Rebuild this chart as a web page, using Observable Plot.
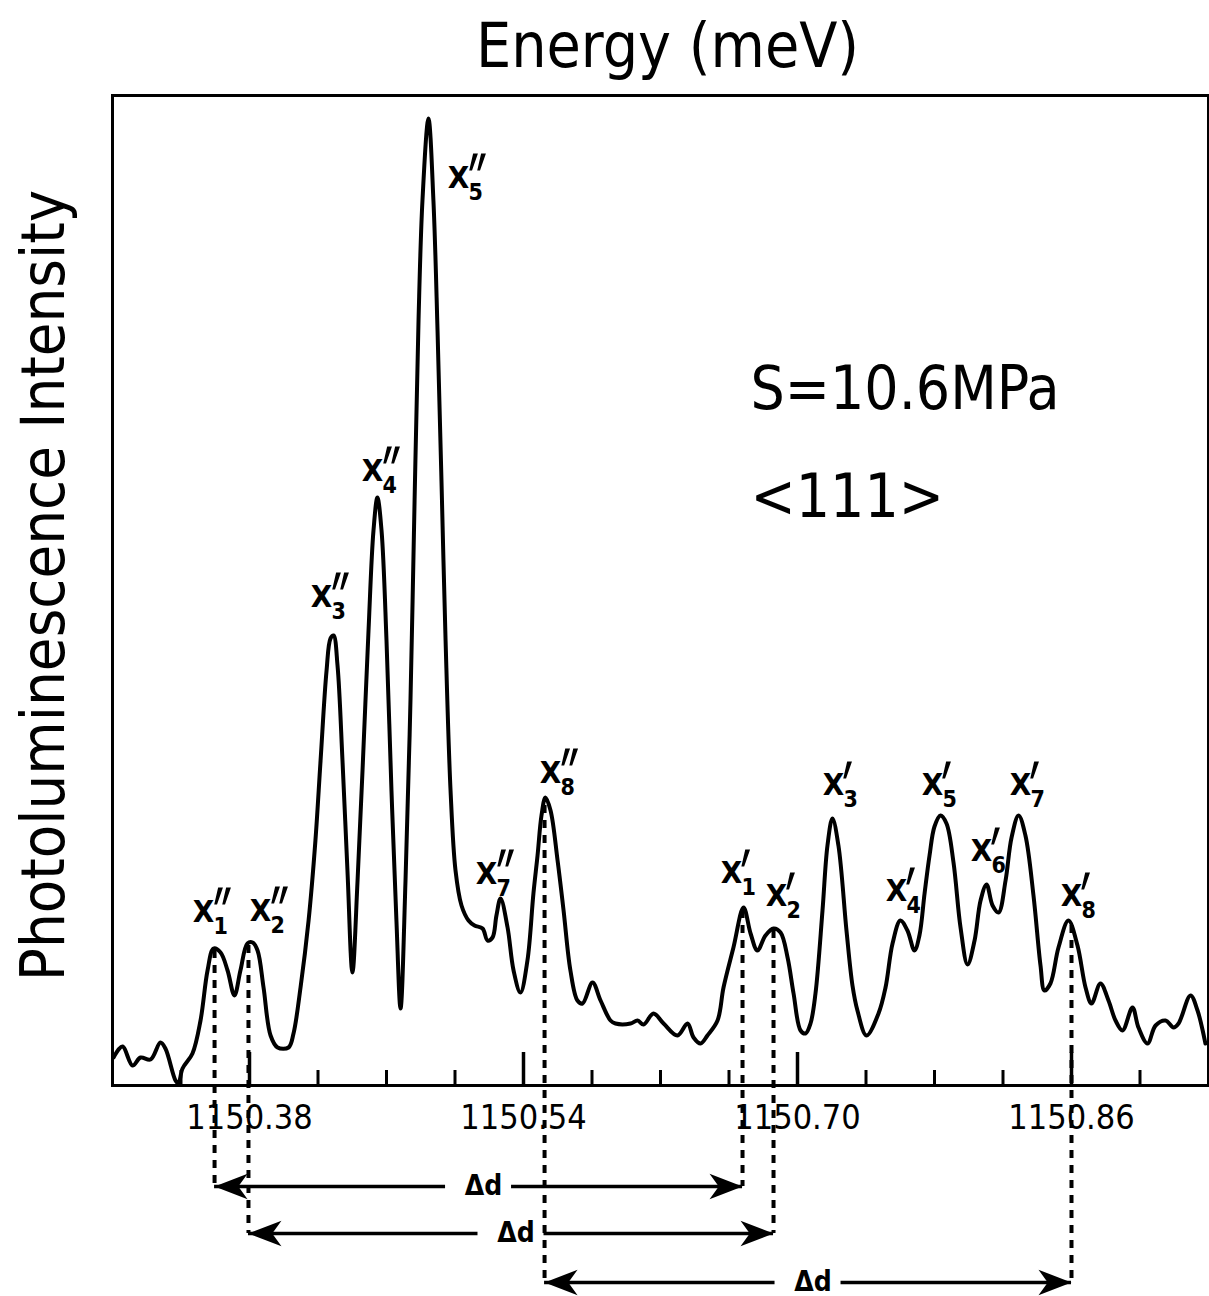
<!DOCTYPE html>
<html><head><meta charset="utf-8">
<script src="https://cdn.jsdelivr.net/npm/d3@7"></script>
<script src="https://cdn.jsdelivr.net/npm/@observablehq/plot@0.6"></script>
<style>
html,body{margin:0;padding:0;background:#fff;}
</style>
</head><body><div id="chart"></div>
<script>
// ---- spectrum (energy in meV, intensity in arbitrary units) ----
const energy = [
1150.3006, 1150.3058, 1150.3117, 1150.3164, 1150.3222, 1150.3280, 1150.3309, 1150.3368, 1150.3385, 1150.3409,
1150.3467, 1150.3514, 1150.3555, 1150.3590, 1150.3631, 1150.3672, 1150.3712, 1150.3747, 1150.3788, 1150.3818,
1150.3847, 1150.3882, 1150.3923, 1150.3964, 1150.4028, 1150.4057, 1150.4098, 1150.4145, 1150.4185, 1150.4215,
1150.4250, 1150.4273, 1150.4291, 1150.4314, 1150.4343, 1150.4372, 1150.4401, 1150.4431, 1150.4460, 1150.4495,
1150.4524, 1150.4547, 1150.4571, 1150.4600, 1150.4629, 1150.4658, 1150.4682, 1150.4711, 1150.4740, 1150.4764,
1150.4787, 1150.4810, 1150.4845, 1150.4874, 1150.4898, 1150.4921, 1150.4945, 1150.4974, 1150.5003, 1150.5038,
1150.5079, 1150.5114, 1150.5161, 1150.5190, 1150.5219, 1150.5242, 1150.5266, 1150.5307, 1150.5342, 1150.5382,
1150.5423, 1150.5458, 1150.5482, 1150.5505, 1150.5528, 1150.5558, 1150.5599, 1150.5634, 1150.5674, 1150.5715,
1150.5745, 1150.5803, 1150.5850, 1150.5908, 1150.5937, 1150.6025, 1150.6066, 1150.6101, 1150.6159, 1150.6218,
1150.6299, 1150.6358, 1150.6393, 1150.6434, 1150.6474, 1150.6533, 1150.6568, 1150.6626, 1150.6685, 1150.6726,
1150.6766, 1150.6813, 1150.6860, 1150.6901, 1150.6942, 1150.6977, 1150.7018, 1150.7047, 1150.7076, 1150.7105,
1150.7146, 1150.7175, 1150.7204, 1150.7239, 1150.7286, 1150.7321, 1150.7350, 1150.7403, 1150.7473, 1150.7514,
1150.7555, 1150.7601, 1150.7642, 1150.7683, 1150.7712, 1150.7742, 1150.7771, 1150.7800, 1150.7835, 1150.7870,
1150.7911, 1150.7952, 1150.7993, 1150.8034, 1150.8069, 1150.8104, 1150.8139, 1150.8174, 1150.8215, 1150.8250,
1150.8291, 1150.8331, 1150.8378, 1150.8419, 1150.8442, 1150.8477, 1150.8524, 1150.8582, 1150.8635, 1150.8682,
1150.8717, 1150.8769, 1150.8816, 1150.8857, 1150.8898, 1150.8956, 1150.8991, 1150.9044, 1150.9091, 1150.9149,
1150.9196, 1150.9225, 1150.9295, 1150.9336, 1150.9382
];
const intensity = [
2.8, 3.9, 2.0, 2.8, 2.6, 4.3, 3.7, 0.5, 0.2, 1.7,
3.2, 6.5, 11.5, 13.7, 13.3, 11.5, 9.0, 11.5, 14.2, 14.3,
13.5, 9.8, 5.0, 3.8, 3.8, 5.2, 9.8, 16.5, 24.5, 32.5,
41.5, 44.7, 45.0, 42.0, 32.5, 21.5, 11.3, 20.5, 31.5, 45.5,
55.5, 58.8, 55.5, 44.5, 29.5, 16.5, 7.7, 20.5, 38.5, 58.5,
76.5, 88.5, 96.7, 88.5, 75.5, 60.5, 44.5, 29.5, 21.5, 18.0,
16.5, 16.0, 15.7, 14.5, 14.8, 17.0, 18.7, 15.8, 11.5, 9.3,
12.5, 19.2, 23.0, 27.0, 28.8, 27.5, 22.5, 17.5, 11.5, 8.5,
8.2, 10.3, 8.5, 6.5, 6.2, 6.2, 6.5, 6.1, 7.2, 6.2,
5.0, 6.2, 4.8, 4.2, 5.0, 6.5, 9.8, 13.8, 17.8, 15.2,
13.5, 15.0, 15.7, 15.3, 12.8, 9.2, 5.5, 5.2, 6.2, 9.2,
17.5, 24.0, 26.7, 24.0, 15.5, 10.0, 7.5, 5.0, 7.2, 9.8,
14.2, 16.5, 15.5, 13.5, 15.0, 19.2, 23.0, 25.9, 27.0, 26.2,
22.3, 15.8, 12.1, 14.5, 18.5, 20.1, 18.0, 17.3, 20.5, 24.8,
27.0, 25.0, 19.0, 12.0, 9.5, 10.2, 13.8, 16.5, 14.0, 9.8,
8.2, 10.2, 8.5, 6.5, 5.5, 7.8, 5.8, 4.2, 6.0, 6.5,
5.8, 6.2, 9.0, 7.5, 4.2
];

// ---- axis ticks ----
const majorTicks = [1150.38, 1150.54, 1150.70, 1150.86];
const minorTicks = [1150.30, 1150.34, 1150.42, 1150.46, 1150.50, 1150.58, 1150.62, 1150.66, 1150.74, 1150.78, 1150.82, 1150.90, 1150.94];
const tickLabels = ["1150.38", "1150.54", "1150.70", "1150.86"];

// ---- peak labels ----
const peakSub   = ["1","2","3","4","5","7","8","1","2","3","4","5","6","7","8"];
const peakPrimes = [2, 2, 2, 2, 2, 2, 2, 1, 1, 1, 1, 1, 1, 1, 1];   // ″ = 2 strokes, ′ = 1 stroke
const labelEnergy = [1150.3531, 1150.3864, 1150.4220, 1150.4518, 1150.5020, 1150.5184, 1150.5558,
                     1150.6615, 1150.6877, 1150.7210, 1150.7578, 1150.7788, 1150.8074, 1150.8302, 1150.8600];
const labelIntensity = [17.3, 17.4, 48.8, 61.4, 90.7, 21.1, 31.2,
                        21.2, 18.9, 30.0, 19.4, 30.0, 23.4, 30.0, 18.9];

// ---- peaks joined by the Δd arrows ----
const markedNames = ["X1''", "X2''", "X8''", "X1'", "X2'", "X8'"];
const markedEnergy = [1150.3596, 1150.3794, 1150.5523, 1150.6679, 1150.6860, 1150.8600];
const markedIntensity = [13.5, 14.0, 28.0, 17.5, 15.5, 16.0];
const markedRow = [0, 1, 2, 0, 1, 2];
const pairFrom = [1150.3596, 1150.3794, 1150.5523];
const pairTo   = [1150.6679, 1150.6860, 1150.8600];
const pairText = ["Δd", "Δd", "Δd"];

// ---- layout ----
const W = 1209, H = 1296, ML = 112, MR = 1, MT = 95, MB = 211;
const X_DOMAIN = [1150.30, 1150.94];
const GAP = 33 * (X_DOMAIN[1] - X_DOMAIN[0]) / (W - ML - MR);   // half-width of the label gap (33 px)
const ROW_Y = [-10.1, -14.8, -19.7];   // arrow rows below the axis (in y-scale units)

// ---- build tables ----
const spectrum = energy.map((e, i) => ({e, v: intensity[i]}));
const labels = labelEnergy.map((e, i) => ({e, v: labelIntensity[i], sub: peakSub[i], primes: peakPrimes[i]}));
const marked = markedEnergy.map((e, i) => ({e, top: markedIntensity[i], bottom: ROW_Y[markedRow[i]]}));
const pairs = pairFrom.map((f, i) => {
  const mid = (f + pairTo[i]) / 2;
  return {from: f, to: pairTo[i], y: ROW_Y[i], mid, leftEnd: mid - GAP, rightStart: mid + GAP, t: pairText[i]};
});

// filled barbed arrow heads (tip at the symbol origin)
const headLeft = {draw(ctx, size) {
  const r = Math.sqrt(size / Math.PI), L = r * 2.2, Wd = r * 0.85;
  ctx.moveTo(0, 0); ctx.lineTo(L, -Wd); ctx.lineTo(L * 0.72, 0); ctx.lineTo(L, Wd); ctx.closePath();
}};
const headRight = {draw(ctx, size) {
  const r = Math.sqrt(size / Math.PI), L = r * 2.2, Wd = r * 0.85;
  ctx.moveTo(0, 0); ctx.lineTo(-L, -Wd); ctx.lineTo(-L * 0.72, 0); ctx.lineTo(-L, Wd); ctx.closePath();
}};
// slanted prime strokes
function primeSymbol(n) {
  return {draw(ctx) {
    for (let k = 0; k < n; k++) {
      const o = k * 8;
      ctx.moveTo(o - 1.2, 0); ctx.lineTo(o + 1.6, 0); ctx.lineTo(o + 7.5, -17); ctx.lineTo(o + 2.7, -17); ctx.closePath();
    }
  }};
}

const COND = "'DejaVu Sans Condensed', 'DejaVu Sans', sans-serif";

const chart = Plot.plot({
  width: W,
  height: H,
  marginLeft: ML,
  marginRight: MR,
  marginTop: MT,
  marginBottom: MB,
  x: {domain: X_DOMAIN, axis: null},
  y: {domain: [0, 99], axis: null},
  style: {fontFamily: COND, background: "white", color: "black", overflow: "visible"},
  marks: [
    Plot.frame({stroke: "black", strokeWidth: 3}),
    Plot.ruleX(minorTicks, {x: d => d, insetTop: 975, strokeWidth: 3}),
    Plot.ruleX(majorTicks, {x: d => d, insetTop: 957, strokeWidth: 3.5}),
    Plot.text(majorTicks, {x: d => d, text: (d, i) => tickLabels[i], frameAnchor: "bottom", lineAnchor: "middle",
      dy: 33, fontSize: 34, fill: "black"}),
    // spectrum
    Plot.line(spectrum, {x: "e", y: "v", curve: "catmull-rom", stroke: "black", strokeWidth: 4,
      strokeLinejoin: "round"}),
    // peak labels: X, primes, subscript
    Plot.text(labels, {x: "e", y: "v", text: () => "X", fontSize: 31, fontWeight: "bold", fill: "black"}),
    Plot.dot(labels.filter(d => d.primes === 2), {x: "e", y: "v", r: 5, symbol: primeSymbol(2), dx: 12, dy: -8,
      fill: "black", stroke: "none"}),
    Plot.dot(labels.filter(d => d.primes === 1), {x: "e", y: "v", r: 5, symbol: primeSymbol(1), dx: 11, dy: -7,
      fill: "black", stroke: "none"}),
    Plot.text(labels, {x: "e", y: "v", text: "sub", textAnchor: "start", dx: 10, dy: 14, fontSize: 23,
      fontWeight: "bold", fill: "black"}),
    // Δd arrows: two shafts broken by the label
    Plot.ruleY(pairs, {y: "y", x1: "from", x2: "leftEnd", stroke: "black", strokeWidth: 3.5}),
    Plot.ruleY(pairs, {y: "y", x1: "rightStart", x2: "to", stroke: "black", strokeWidth: 3.5}),
    Plot.text(pairs, {x: "mid", y: "y", text: "t", dx: 5, fontSize: 28, fontWeight: "bold", fill: "black"}),
    Plot.ruleX(marked, {x: "e", y1: "top", y2: "bottom", stroke: "black", strokeWidth: 4,
      strokeDasharray: "8,7"}),
    Plot.dot(pairs, {x: "from", y: "y", r: 15, symbol: headLeft, fill: "black", stroke: "none"}),
    Plot.dot(pairs, {x: "to", y: "y", r: 15, symbol: headRight, fill: "black", stroke: "none"}),
    // annotations
    Plot.text(["S=10.6MPa"], {frameAnchor: "top-left", textAnchor: "start", lineAnchor: "middle", dx: 638, dy: 294,
      fontSize: 60, fill: "black"}),
    Plot.text(["<111>"], {frameAnchor: "top-left", textAnchor: "start", lineAnchor: "middle", dx: 638, dy: 402,
      fontSize: 60, fill: "black"}),
    // titles
    Plot.text(["Energy (meV)"], {frameAnchor: "top", lineAnchor: "middle", dx: 7, dy: -48, fontSize: 62, fill: "black"}),
    Plot.text(["Photoluminescence Intensity"], {frameAnchor: "left", textAnchor: "middle", lineAnchor: "middle",
      rotate: -90, dx: -68, dy: -5, fontSize: 61, fill: "black"})
  ]
});
document.getElementById("chart").appendChild(chart);
</script>
</body></html>
